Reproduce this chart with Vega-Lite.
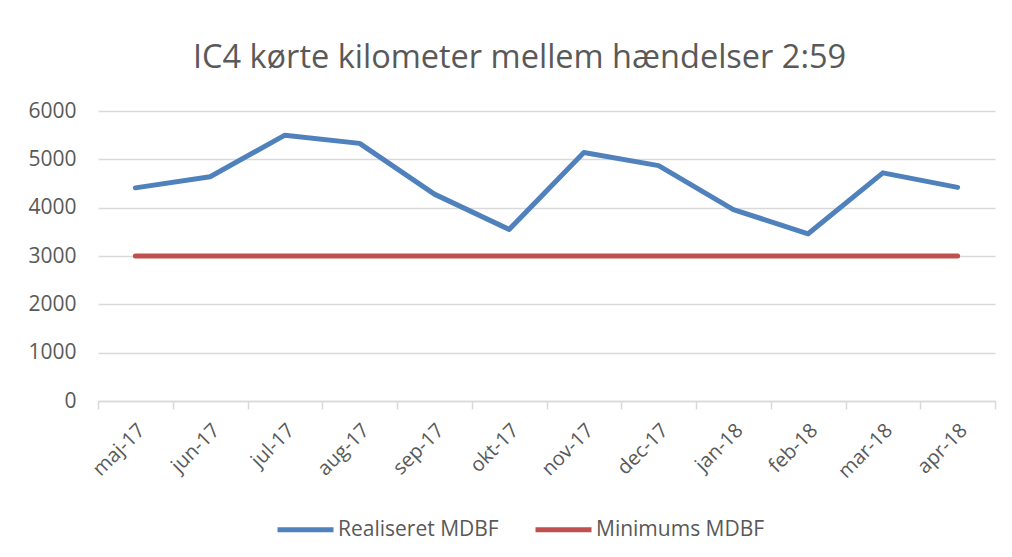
{
  "$schema": "https://vega.github.io/schema/vega-lite/v6.json",
  "width": 897,
  "height": 290,
  "autosize": "none",
  "padding": {"left": 98, "top": 111, "right": 17, "bottom": 156},
  "background": "white",
  "title": {
    "text": "IC4 kørte kilometer mellem hændelser 2:59",
    "font": "Open Sans",
    "fontSize": 32.5,
    "fontWeight": "normal",
    "color": "#595959",
    "anchor": "middle",
    "dx": -27,
    "offset": 0,
    "baseline": "alphabetic"
  },
  "data": {
    "values": [
      {"month": "maj-17", "series": "Realiseret MDBF", "value": 4410},
      {"month": "jun-17", "series": "Realiseret MDBF", "value": 4640},
      {"month": "jul-17", "series": "Realiseret MDBF", "value": 5500},
      {"month": "aug-17", "series": "Realiseret MDBF", "value": 5330},
      {"month": "sep-17", "series": "Realiseret MDBF", "value": 4280},
      {"month": "okt-17", "series": "Realiseret MDBF", "value": 3550},
      {"month": "nov-17", "series": "Realiseret MDBF", "value": 5140},
      {"month": "dec-17", "series": "Realiseret MDBF", "value": 4870},
      {"month": "jan-18", "series": "Realiseret MDBF", "value": 3960},
      {"month": "feb-18", "series": "Realiseret MDBF", "value": 3460},
      {"month": "mar-18", "series": "Realiseret MDBF", "value": 4720},
      {"month": "apr-18", "series": "Realiseret MDBF", "value": 4420},
      {"month": "maj-17", "series": "Minimums MDBF", "value": 3000},
      {"month": "jun-17", "series": "Minimums MDBF", "value": 3000},
      {"month": "jul-17", "series": "Minimums MDBF", "value": 3000},
      {"month": "aug-17", "series": "Minimums MDBF", "value": 3000},
      {"month": "sep-17", "series": "Minimums MDBF", "value": 3000},
      {"month": "okt-17", "series": "Minimums MDBF", "value": 3000},
      {"month": "nov-17", "series": "Minimums MDBF", "value": 3000},
      {"month": "dec-17", "series": "Minimums MDBF", "value": 3000},
      {"month": "jan-18", "series": "Minimums MDBF", "value": 3000},
      {"month": "feb-18", "series": "Minimums MDBF", "value": 3000},
      {"month": "mar-18", "series": "Minimums MDBF", "value": 3000},
      {"month": "apr-18", "series": "Minimums MDBF", "value": 3000}
    ]
  },
  "mark": {"type": "line", "strokeWidth": 5, "strokeCap": "round", "strokeJoin": "round"},
  "encoding": {
    "x": {
      "field": "month",
      "type": "nominal",
      "sort": null,
      "bandPosition": 0.5,
      "scale": {"type": "band", "paddingInner": 0, "paddingOuter": 0},
      "axis": {
        "title": null,
        "labelAngle": -45,
        "labelAlign": "right",
        "labelBaseline": "middle",
        "labelFont": "Open Sans",
        "labelFontSize": 20,
        "labelColor": "#595959",
        "labelPadding": 18,
        "labelOffset": 6,
        "domainColor": "#D9D9D9",
        "domainWidth": 1.5,
        "tickColor": "#D9D9D9",
        "tickWidth": 1.5,
        "tickSize": 8,
        "tickBand": "extent",
        "grid": false
      }
    },
    "y": {
      "field": "value",
      "type": "quantitative",
      "scale": {"domain": [0, 6000], "nice": false},
      "axis": {
        "title": null,
        "values": [0, 1000, 2000, 3000, 4000, 5000, 6000],
        "format": "d",
        "domain": false,
        "ticks": false,
        "grid": true,
        "gridColor": "#D9D9D9",
        "gridWidth": 1.5,
        "labelFont": "Open Sans",
        "labelFontSize": 21,
        "labelColor": "#595959",
        "labelPadding": 22
      }
    },
    "color": {
      "field": "series",
      "type": "nominal",
      "scale": {"domain": ["Realiseret MDBF", "Minimums MDBF"], "range": ["#4F81BD", "#C0504D"]},
      "legend": {
        "title": null,
        "orient": "none",
        "direction": "horizontal",
        "legendX": 177,
        "legendY": 388,
        "symbolType": "stroke",
        "symbolSize": 3136,
        "symbolStrokeWidth": 5,
        "labelFont": "Open Sans",
        "labelFontSize": 21,
        "labelColor": "#595959",
        "labelOffset": 2,
        "labelLimit": 400,
        "columnPadding": 26
      }
    }
  },
  "config": {"view": {"stroke": null}}
}
